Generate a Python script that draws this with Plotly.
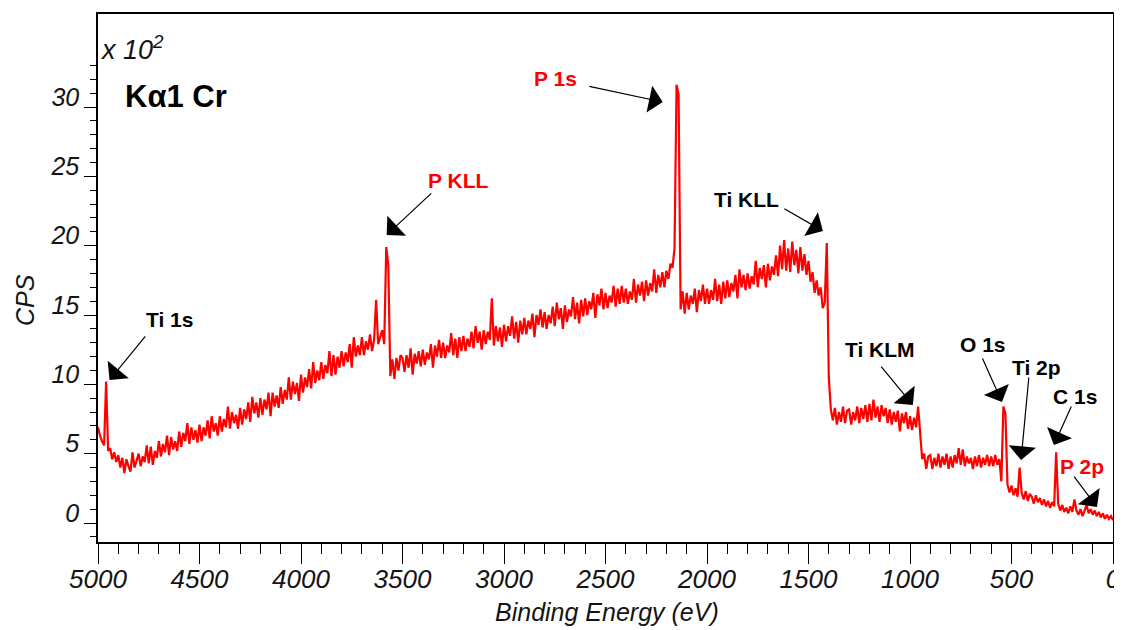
import plotly.graph_objects as go

# Binding energy grid (eV), 5000 -> 0 in 10 eV steps
energy = list(range(5000, -1, -10))

# CPS (x 10^2), one row per 100 eV (5000 -> 0)
cps = [
    6.9, 6.3, 5.9, 5.6, 10.2, 5.2, 5.4, 4.6, 5.1, 4.4,
    4.9, 4.0, 4.7, 3.6, 4.6, 4.1, 3.7, 5.1, 4.0, 4.5,
    5.0, 4.1, 4.8, 4.4, 5.6, 4.3, 5.5, 4.2, 5.2, 4.7,
    5.9, 4.8, 5.7, 5.1, 6.3, 4.9, 6.2, 5.3, 5.9, 5.2,
    6.6, 5.5, 6.5, 5.9, 7.2, 5.7, 6.9, 6.0, 6.7, 5.8,
    7.1, 5.9, 6.9, 6.3, 7.4, 6.1, 7.7, 6.6, 7.2, 6.3,
    7.7, 6.6, 7.5, 6.9, 8.4, 6.8, 8.0, 7.2, 7.8, 6.8,
    8.3, 7.1, 8.2, 7.5, 8.7, 7.3, 9.1, 7.9, 8.7, 7.6,
    9.0, 7.8, 8.9, 8.2, 9.4, 7.7, 9.4, 8.4, 9.2, 8.3,
    9.8, 8.6, 9.6, 8.9, 10.5, 8.9, 10.2, 9.3, 10.1, 8.8,
    10.7, 9.4, 10.5, 9.8, 11.1, 9.7, 11.6, 10.1, 11.0, 10.3,
    11.6, 10.4, 11.4, 10.8, 12.4, 10.6, 12.1, 10.7, 12.0, 11.2,
    12.4, 11.3, 12.3, 11.6, 12.9, 11.2, 13.4, 12.0, 12.8, 12.1,
    13.4, 12.1, 13.1, 12.5, 13.6, 12.4, 13.2, 16.1, 12.9, 13.4,
    13.9, 12.9, 19.9, 18.6, 10.6, 11.8, 10.4, 11.9, 11.0, 12.1,
    11.9, 10.9, 12.1, 11.2, 12.6, 10.7, 12.2, 11.5, 12.4, 11.3,
    12.5, 11.4, 12.3, 11.8, 12.9, 11.2, 12.8, 12.0, 13.2, 11.9,
    13.0, 11.9, 12.8, 12.3, 13.7, 12.1, 13.3, 11.9, 13.4, 12.4,
    13.5, 12.4, 13.3, 12.7, 13.8, 12.6, 14.2, 13.0, 13.8, 12.5,
    13.9, 12.9, 13.8, 13.2, 16.2, 12.8, 14.2, 13.1, 14.1, 12.7,
    14.3, 13.1, 14.2, 13.5, 14.9, 13.3, 14.5, 13.0, 14.6, 13.6,
    14.8, 13.6, 14.6, 14.0, 15.1, 13.4, 15.0, 14.3, 15.4, 14.1,
    15.2, 14.0, 15.0, 14.4, 15.6, 14.2, 15.9, 14.7, 15.5, 14.0,
    15.7, 14.5, 15.4, 14.9, 16.3, 14.7, 15.9, 14.4, 16.1, 14.9,
    16.2, 15.0, 16.0, 15.4, 16.6, 14.8, 16.5, 15.7, 16.9, 15.4,
    16.6, 15.5, 16.4, 15.9, 17.1, 15.6, 16.9, 15.8, 17.1, 15.9,
    16.9, 15.8, 16.7, 16.1, 17.6, 15.9, 17.2, 16.4, 17.4, 16.0,
    17.5, 16.4, 17.3, 16.7, 18.3, 16.6, 17.9, 17.0, 18.1, 17.0,
    18.2, 17.6, 18.7, 18.4, 19.8, 31.6, 30.9, 15.4, 16.7, 15.1,
    16.6, 15.4, 16.4, 15.8, 16.9, 15.2, 16.8, 16.0, 17.2, 15.8,
    16.9, 15.8, 16.8, 16.1, 17.6, 16.0, 17.2, 15.8, 17.4, 16.2,
    17.5, 16.3, 17.3, 16.7, 17.9, 16.2, 18.3, 17.0, 17.9, 16.8,
    18.0, 16.9, 17.8, 17.2, 18.9, 17.0, 18.4, 17.6, 18.6, 17.0,
    18.7, 17.5, 18.5, 17.9, 19.3, 17.8, 20.0, 18.3, 20.4, 18.2,
    19.8, 18.1, 20.3, 18.6, 19.7, 18.0, 19.9, 18.2, 19.4, 17.9,
    18.9, 17.4, 18.1, 16.6, 17.5, 16.4, 17.0, 15.5, 15.9, 20.2,
    10.5, 8.2, 7.4, 8.3, 7.1, 8.0, 7.3, 8.4, 7.2, 8.1,
    8.2, 7.1, 8.0, 7.4, 8.4, 7.2, 8.3, 7.5, 8.5, 7.3,
    8.6, 7.4, 8.9, 7.6, 8.4, 7.3, 8.5, 7.7, 8.3, 7.2,
    8.2, 7.1, 8.0, 7.3, 8.1, 6.6, 7.9, 7.2, 8.0, 6.8,
    7.7, 6.7, 7.6, 6.9, 8.4, 6.5, 4.6, 5.0, 3.9, 4.8,
    4.9, 3.9, 4.7, 4.1, 5.0, 4.0, 4.8, 4.2, 5.0, 3.9,
    4.8, 4.0, 4.9, 4.3, 5.4, 4.2, 5.3, 4.1, 4.8, 4.3,
    4.7, 3.9, 4.8, 4.1, 4.9, 4.0, 4.7, 4.2, 4.9, 4.1,
    4.8, 4.1, 4.9, 4.2, 4.6, 3.0, 8.4, 7.9, 2.8, 2.2,
    2.7, 2.0, 2.5, 1.9, 4.0, 2.2, 1.7, 2.3, 1.6, 2.1,
    1.9, 1.4, 2.0, 1.5, 1.8, 1.3, 1.7, 1.2, 1.6, 1.1,
    1.5, 1.2, 5.1, 1.4, 0.9, 1.3, 0.8, 1.1, 0.7, 1.2,
    0.8, 1.7, 0.9, 0.6, 1.0, 0.5, 0.9, 1.3, 0.7, 1.0,
    0.6, 0.9, 0.5, 0.8, 0.4, 0.7, 0.3, 0.6, 0.3, 0.5,
    0.2,
]

# Peak labels: text, colour, text position, arrow tail, arrow head (eV, CPS x 10^2)
peak_labels = ["Ti 1s", "P KLL", "P 1s", "Ti KLL", "Ti KLM", "O 1s", "Ti 2p", "C 1s", "P 2p"]
label_colors = ["black", "red", "red", "black", "black", "black", "black", "black", "red"]
label_x = [4648, 3228, 2745, 1804, 1148, 641, 375, 187, 153]
label_y = [14.71, 24.73, 32.09, 23.36, 12.48, 12.84, 11.25, 9.09, 4.04]
tail_x = [4761, 3351, 2587, 1626, 1148, 646, 414, 202, 197]
tail_y = [13.56, 23.87, 31.51, 22.72, 11.39, 11.97, 10.60, 8.51, 3.46]
head_x = [4943, 3578, 2218, 1429, 986, 547, 453, 291, 79]
head_y = [10.31, 20.77, 30.36, 21.06, 8.51, 8.73, 4.54, 5.62, 1.15]

x_major = [5000, 4500, 4000, 3500, 3000, 2500, 2000, 1500, 1000, 500, 0]
y_major = [0, 5, 10, 15, 20, 25, 30]

FONT = "Liberation Sans, Arial, sans-serif"
INK = "#141414"

fig = go.Figure()
fig.add_trace(go.Scatter(
    x=energy, y=cps, mode="lines",
    line=dict(color="#ff0000", width=2.2, simplify=False),
    showlegend=False, hoverinfo="skip",
))

annotations = []
for t, c, lx, ly, tx, ty, hx, hy in zip(peak_labels, label_colors, label_x, label_y,
                                         tail_x, tail_y, head_x, head_y):
    annotations.append(dict(
        x=hx, y=hy, ax=tx, ay=ty, xref="x", yref="y", axref="x", ayref="y",
        text="", showarrow=True, arrowhead=1, arrowsize=3.8, arrowwidth=1.2,
        arrowcolor="black",
    ))
    annotations.append(dict(
        x=lx, y=ly, xref="x", yref="y", text="<b>%s</b>" % t, showarrow=False,
        font=dict(family=FONT, size=21, color=c),
    ))

annotations += [
    dict(x=0.0, y=0.935, xref="paper", yref="paper", xanchor="left", yanchor="middle",
         text="x 10<sup>2</sup>", showarrow=False,
         font=dict(family=FONT, size=27, color=INK, style="italic")),
    dict(x=0.0246, y=0.843, xref="paper", yref="paper", xanchor="left", yanchor="middle",
         text="<b>Kα1 Cr</b>", showarrow=False,
         font=dict(family=FONT, size=31, color="black")),
    dict(x=-0.072, y=0.458, xref="paper", yref="paper", xanchor="center", yanchor="middle",
         text="CPS", textangle=-90, showarrow=False,
         font=dict(family=FONT, size=25, color=INK, style="italic")),
    dict(x=0.501, y=-0.1326, xref="paper", yref="paper", xanchor="center", yanchor="middle",
         text="Binding Energy (eV)", showarrow=False,
         font=dict(family=FONT, size=25, color=INK, style="italic")),
]

y_minor = [v for v in range(-1, 34) if v % 5 != 0]

# The page body adds an 8 px offset, so the figure is drawn 8 px smaller on each axis
fig.update_layout(
    width=1114, height=622,
    margin=dict(l=90, r=9, t=6, b=88, autoexpand=False),
    paper_bgcolor="white", plot_bgcolor="white",
    showlegend=False,
    annotations=annotations,
    xaxis=dict(
        range=[5000, 0], tickmode="array", tickvals=x_major,
        ticktext=[str(v) for v in x_major], automargin=False,
        ticks="outside", ticklen=20, tickwidth=1.3, tickcolor="black",
        minor=dict(dtick=100, tick0=0, ticks="outside", ticklen=10, tickwidth=1.3, tickcolor="black"),
        showline=True, linecolor="black", linewidth=1.5, mirror=True,
        showgrid=False, zeroline=False, ticklabelstandoff=-7,
        tickfont=dict(family=FONT, size=26, color=INK, style="italic"),
    ),
    yaxis=dict(
        range=[-1.37, 36.71], tickmode="array", tickvals=y_major,
        ticktext=[str(v) for v in y_major], automargin=False,
        ticks="outside", ticklen=12, tickwidth=1.3, tickcolor="black",
        minor=dict(tickmode="array", tickvals=y_minor, ticks="outside", ticklen=6,
                   tickwidth=1.3, tickcolor="black"),
        showline=True, linecolor="black", linewidth=1.5, mirror=True,
        showgrid=False, zeroline=False, ticklabelshift=-10,
        tickfont=dict(family=FONT, size=25, color=INK, style="italic"),
    ),
)

fig.write_html("out.html")
